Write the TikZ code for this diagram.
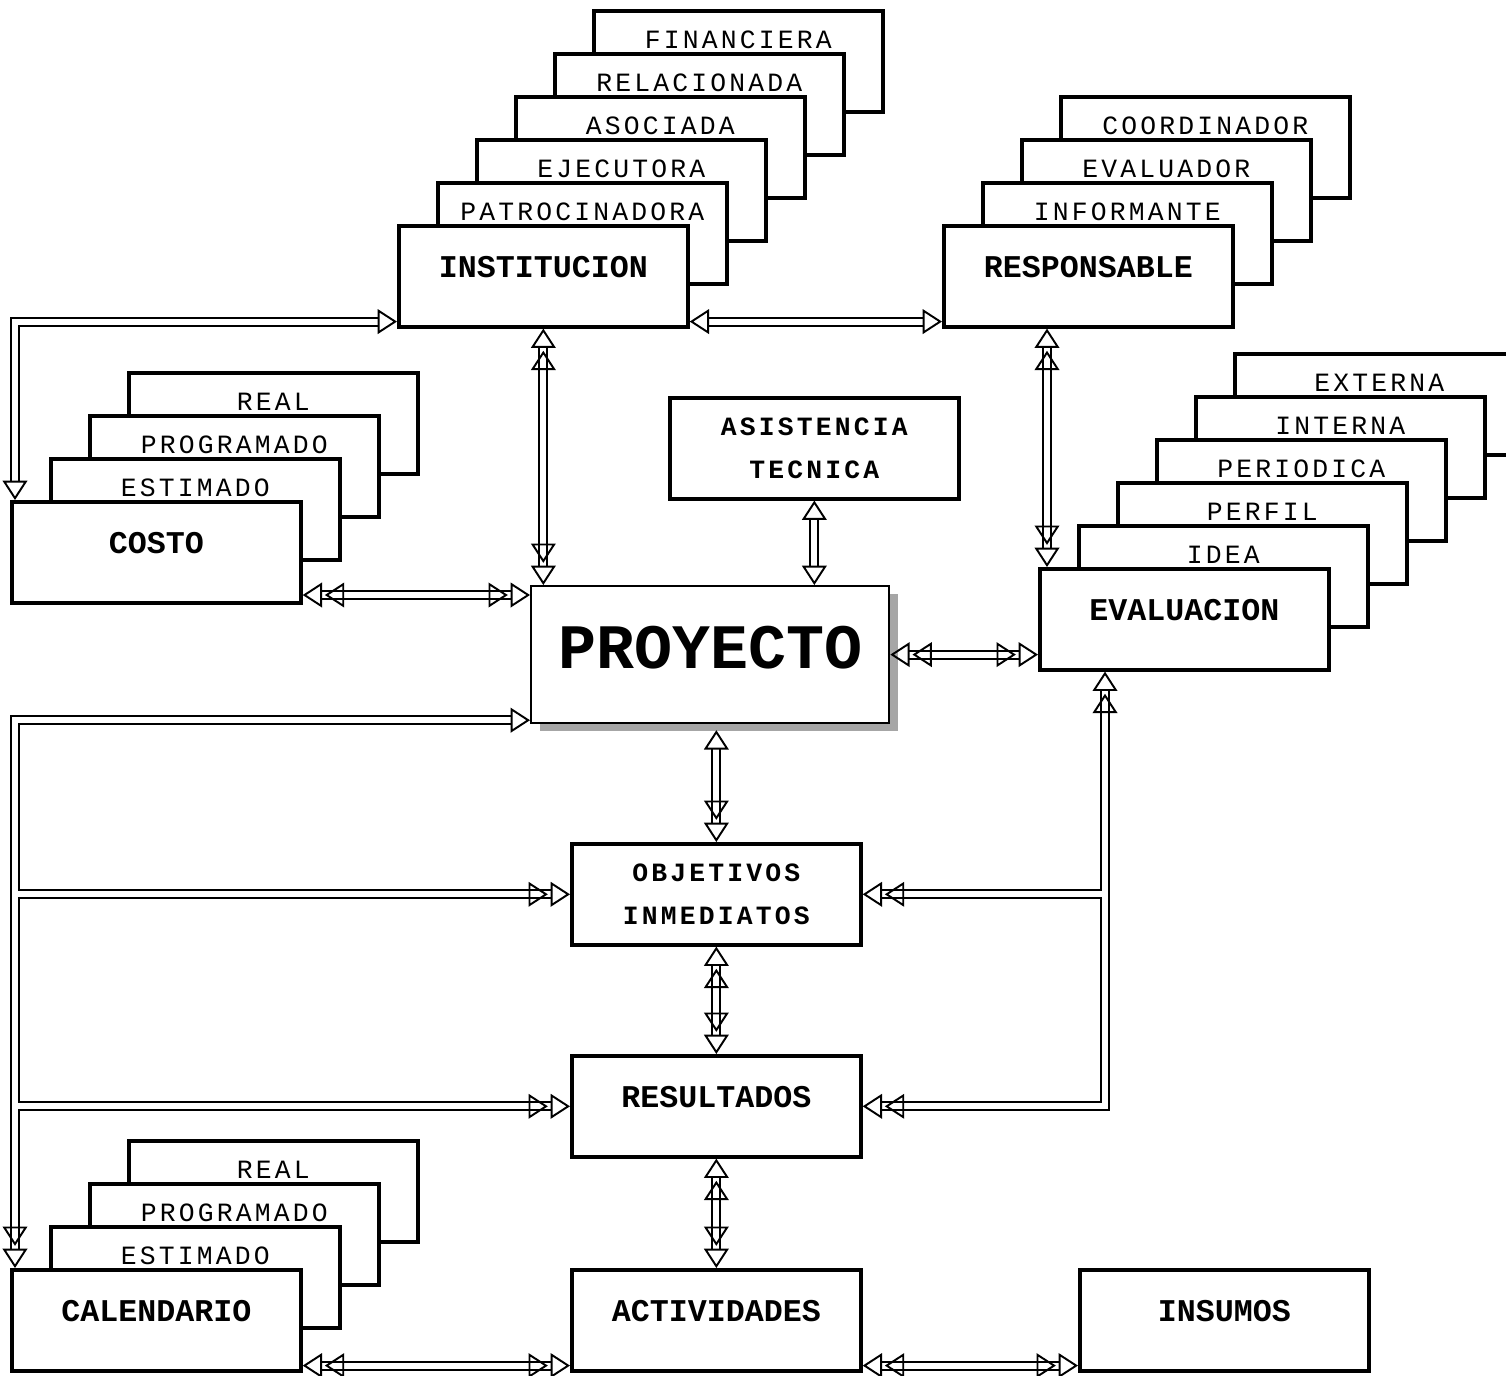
\documentclass[tikz,border=0pt]{standalone}
\usepackage{fontspec}
\setmonofont{Liberation Mono}
\newfontfamily\letraabierta[LetterSpace=12]{Liberation Mono}
\usetikzlibrary{arrows.meta,calc,positioning,shadows}
\tikzset{
  caja/.style={draw, line width=1pt, fill=white, minimum width=2.89cm,
    minimum height=1.01cm, inner sep=0pt, anchor=north west},
  principal/.style={caja, font=\ttfamily\bfseries\fontsize{9}{10}\selectfont,
    text height=0.52cm, text depth=0.49cm},
  trasera/.style={caja, font=\letraabierta\fontsize{7.5}{9}\selectfont,
    text height=0.38cm, text depth=0.63cm},
  doslineas/.style={caja, align=center,
    font=\letraabierta\bfseries\fontsize{7.5}{12.2}\selectfont},
  doble/.style={draw, line width=0.55pt, double, double distance=1.7pt},
  pta/.tip={Triangle[open, length=5.5pt, width=7pt]},
  ptb/.tip={Triangle[open, length=5.5pt, width=7pt, sep=0.8pt] Triangle[open, length=5.5pt, width=7pt]},
}

\begin{document}
\begin{tikzpicture}[x=0.01cm, y=-0.01cm]
    \useasboundingbox (0,0) rectangle (1506,1375);
    %% Institucion
    \node [trasera] (fin) at (592,9) {FINANCIERA};
    \node [trasera] (rel) at (553,52) {RELACIONADA};
    \node [trasera] (aso) at (514,95) {ASOCIADA};
    \node [trasera] (eje) at (475,138) {EJECUTORA};
    \node [trasera] (pat) at (436,181) {PATROCINADORA};
    \node [principal] (inst) at (397,224) {INSTITUCION};
    %% Responsable
    \node [trasera] (coord) at (1059,95) {COORDINADOR};
    \node [trasera] (evalr) at (1020,138) {EVALUADOR};
    \node [trasera] (infor) at (981,181) {INFORMANTE};
    \node [principal] (resp) at (942,224) {RESPONSABLE};
    %% Costo
    \node [trasera] (creal) at (127,371) {REAL};
    \node [trasera] (cprog) at (88,414) {PROGRAMADO};
    \node [trasera] (cest) at (49,457) {ESTIMADO};
    \node [principal] (costo) at (10,500) {COSTO};
    %% Evaluacion
    \node [trasera] (ext) at (1233,352) {EXTERNA};
    \node [trasera] (inter) at (1194,395) {INTERNA};
    \node [trasera] (peri) at (1155,438) {PERIODICA};
    \node [trasera] (perf) at (1116,481) {PERFIL};
    \node [trasera] (idea) at (1077,524) {IDEA};
    \node [principal] (eval) at (1038,567) {EVALUACION};
    %% Calendario
    \node [trasera] (kreal) at (127,1139) {REAL};
    \node [trasera] (kprog) at (88,1182) {PROGRAMADO};
    \node [trasera] (kest) at (49,1225) {ESTIMADO};
    \node [principal] (cal) at (10,1268) {CALENDARIO};
    %% Centro
    \node [doslineas] (asist) at (668,396) {ASISTENCIA\\TECNICA};
    \node [draw, line width=0.6pt, fill=white, minimum width=3.58cm, minimum height=1.37cm,
      inner sep=0pt, anchor=north west, font=\ttfamily\bfseries\fontsize{18}{20}\selectfont,
      text height=0.82cm, text depth=0.55cm,
      drop shadow={shadow xshift=0.09cm, shadow yshift=-0.08cm, fill=gray!70, opacity=1}]
      (proy) at (530,585) {PROYECTO};
    \node [doslineas] (obj) at (570,842) {OBJETIVOS\\INMEDIATOS};
    \node [principal] (res) at (570,1054) {RESULTADOS};
    \node [principal] (act) at (570,1268) {ACTIVIDADES};
    \node [principal] (ins) at (1078,1268) {INSUMOS};
    \coordinate (bi) at ($(cal.north west)+(8,0)$);
    \coordinate (bd) at ($(eval.south west)+(64,0)$);
    \coordinate (eb) at ($(eval.south west)+(67,0)$);
    \coordinate (er) at ($(eval.north west)+(9,0)$);
    \coordinate (pb) at ($(proy.south)+(0,6)$);
    \coordinate (cp) at ($(proy.north west)+(0,10)$);
    \coordinate (ir) at ($(inst.south east)+(0,-7)$);
    \coordinate (ca) at ($(cal.south east)+(0,-7)$);
    \coordinate (ai) at ($(act.south east)+(0,-7)$);
    %% Flows
    \draw [doble, pta-pta] (ir) -- (ir -| resp.west);
    \draw [doble, ptb-ptb] (inst.south) -- (inst.south |- proy.north);
    \draw [doble, ptb-ptb] (er |- resp.south) -- (er);
    \draw [doble, pta-pta] ($(inst.south west)+(0,-7)$) -| ($(costo.north west)+(5,0)$);
    \draw [doble, ptb-ptb] (cp -| costo.east) -- (cp);
    \draw [doble, pta-pta] (asist.south) -- (asist.south |- proy.north);
    \draw [doble, ptb-ptb] (proy.east) -- (proy.east -| eval.west);
    \draw [doble, pta-ptb] (obj.north |- pb) -- (obj.north);
    \draw [doble, pta-ptb] ($(proy.south west)+(0,-4)$) -| ($(cal.north west)+(5,0)$);
    \draw [doble, -ptb] (bi |- obj.west) -- (obj.west);
    \draw [doble, -ptb] (bi |- res.west) -- (res.west);
    \draw [doble, ptb-ptb] (eb) |- (res.east);
    \draw [doble, -ptb] (bd |- obj.east) -- (obj.east);
    \draw [doble, ptb-ptb] (obj.south) -- (obj.south |- res.north);
    \draw [doble, ptb-ptb] (res.south) -- (res.south |- act.north);
    \draw [doble, ptb-ptb] (ca) -- (ca -| act.west);
    \draw [doble, ptb-ptb] (ai) -- (ai -| ins.west);
\end{tikzpicture}
\end{document}
